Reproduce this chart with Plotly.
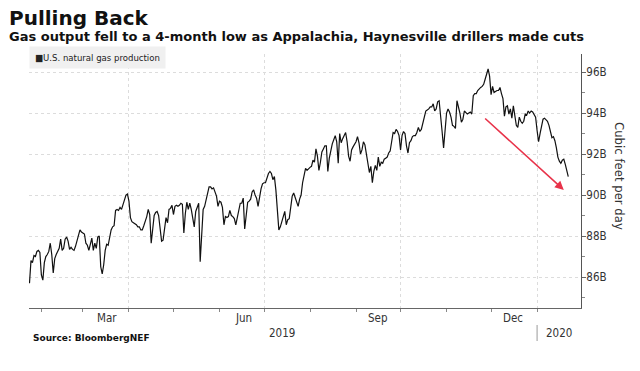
import plotly.graph_objects as go
import pandas as pd

# ---------------- data ----------------
start_date = "2019-01-24"
production = [
    85.7, 86.8, 86.7, 87.05, 87.0, 87.25, 87.3, 87.2, 86.1, 85.85,
    86.7, 87.0, 87.1, 87.25, 87.65, 87.1, 86.2, 86.9, 87.1, 87.25,
    87.4, 87.85, 87.3, 87.4, 87.85, 87.95, 87.75, 87.35, 87.45, 87.35,
    87.3, 87.5, 87.8, 88.0, 88.3, 88.2, 88.15, 88.1, 87.65, 87.55,
    87.3, 87.6, 87.9, 87.3, 87.65, 87.4, 87.95, 88.0, 86.5, 86.15,
    86.6, 87.3, 87.6, 87.55, 87.95, 88.3, 88.45, 88.5, 89.25, 89.3,
    89.25, 89.4, 89.3, 89.5, 89.8, 90.0, 90.05, 89.7, 88.9, 88.7,
    88.65, 88.6, 88.55, 88.45, 88.45, 88.3, 88.3, 88.5, 88.7, 88.95,
    89.3, 89.05, 87.65, 88.4, 89.0, 89.15, 89.2, 89.0, 88.45, 87.75,
    87.8, 88.3, 88.9, 88.65, 89.3, 89.35, 89.5, 89.05, 89.45, 89.5,
    89.45, 89.5, 89.6, 89.55, 88.15, 89.1, 89.65, 89.3, 89.6, 89.3,
    88.95, 88.45, 89.2, 89.45, 89.6, 86.75, 88.0, 89.3, 89.45, 89.8,
    90.1, 90.4, 90.4, 90.3, 90.35, 90.15, 89.95, 89.45, 89.7, 89.65,
    89.4, 88.55, 88.95, 88.9, 88.95, 89.25, 89.0, 88.95, 88.85, 88.55,
    88.95, 89.25, 89.6, 89.6, 89.85, 88.35, 89.0, 89.65, 89.7, 89.8,
    90.15, 90.25, 90.0, 89.85, 89.45, 90.0, 90.3, 90.55, 90.6, 90.6,
    90.85, 91.05, 91.15, 91.05, 90.75, 90.9, 90.25, 88.95, 88.3, 88.45,
    88.75, 89.0, 89.2, 88.55, 88.8, 88.85, 89.4, 89.95, 90.1, 89.85,
    89.6, 89.45, 89.8, 90.0, 90.6, 91.0, 91.3, 91.2, 91.3, 91.35,
    91.4, 91.7, 91.6, 92.25, 91.9, 91.2, 91.6, 92.1, 92.25, 92.4,
    92.4, 91.15, 91.8, 92.2, 92.5, 92.7, 92.9, 92.6, 91.55, 93.0,
    92.55, 92.75, 92.9, 93.05, 92.6, 91.9, 91.65, 92.2, 92.35, 92.45,
    92.6, 92.85, 92.55, 92.0, 92.2, 92.6, 92.45, 92.0, 91.5, 91.1,
    91.4, 90.6, 91.15, 91.45, 91.2, 91.85, 91.4, 91.6, 91.55, 91.75,
    91.8, 91.85, 92.05, 92.15, 92.6, 93.05, 93.0, 93.2, 93.1, 92.9,
    92.2, 92.9, 93.1, 93.0, 92.4, 92.05, 92.55, 92.65, 92.85, 92.9,
    92.9, 93.05, 93.3, 93.1, 93.2, 93.5, 93.9, 94.1, 94.15, 94.2,
    94.3, 94.3, 94.45, 94.1, 94.2, 94.55, 94.6, 94.0, 93.1, 92.3,
    93.0, 94.0, 94.2, 94.05, 93.8, 93.4, 93.35, 93.25, 94.6, 94.35,
    94.0, 93.55, 93.7, 94.1, 94.0, 93.95, 94.0, 94.05, 93.95, 94.85,
    94.95, 94.95, 95.1, 95.2, 95.25, 95.3, 95.4, 95.65, 95.95, 96.15,
    95.8, 94.9, 95.3, 95.0, 95.05, 95.1, 95.1, 95.25, 94.95, 94.7,
    93.85, 94.3, 94.35, 93.95, 94.2, 93.75, 94.35, 93.8, 93.4, 93.3,
    93.8, 93.6, 93.5, 93.6, 93.95, 93.9, 94.1, 94.0, 94.1, 94.05,
    93.95, 93.8, 93.15, 92.6, 93.0, 93.4, 93.7, 93.75, 93.65, 93.6,
    93.4, 93.15, 92.8, 92.85, 92.65, 92.3, 91.85, 91.65, 91.55, 91.7,
    91.75, 91.5, 91.15, 90.9,
]
series_name = "U.S. natural gas production"

month_labels = ["Mar", "Jun", "Sep", "Dec"]
month_label_dates = ["2019-03-17", "2019-06-17", "2019-09-16", "2019-12-16"]
year_labels = ["2019", "2020"]
year_label_dates = ["2019-07-13", "2020-01-16"]
year_boundary = "2020-01-01"

arrow_from = ("2019-11-26", 93.8)
arrow_to = ("2020-01-19", 90.25)

dates = pd.date_range(start_date, periods=len(production), freq="D")

# ---------------- layout helpers ----------------
W, H = 640, 371
L, R, T, B = 29, 59, 54, 63
PW, PH = W - L - R, H - T - B


def px(x):
    return (x - L) / PW


def py(y):
    return (H - B - y) / PH


TXT = "#333333"
NARROW = "Liberation Sans Narrow, DejaVu Sans Condensed, Arial Narrow, sans-serif"
BOLD = "DejaVu Sans, Verdana, sans-serif"
GRID = "#dcdcdc"

fig = go.Figure()
fig.add_trace(go.Scatter(
    x=dates, y=production, mode="lines", name=series_name,
    line=dict(color="#111111", width=1.2), showlegend=False, hoverinfo="skip",
))

annotations = []
# title & subtitle
annotations.append(dict(text="<b>Pulling Back</b>", xref="paper", yref="paper",
                        x=px(7), y=py(18), xanchor="left", yanchor="middle",
                        showarrow=False, font=dict(family=BOLD, size=20, color="#111")))
annotations.append(dict(text="<b>Gas output fell to a 4-month low as Appalachia, Haynesville drillers made cuts</b>",
                        xref="paper", yref="paper", x=px(7), y=py(37),
                        xanchor="left", yanchor="middle", showarrow=False,
                        font=dict(family=BOLD, size=13, color="#111")))
# legend box
annotations.append(dict(text="\u25A0" + series_name, xref="paper", yref="paper",
                        x=px(29), y=py(57.5), xanchor="left", yanchor="middle",
                        showarrow=False, bgcolor="#f0f0f0", borderpad=5,
                        font=dict(family=NARROW, size=9.5, color="#222")))
# y-axis title
annotations.append(dict(text="Cubic feet per day", xref="paper", yref="paper",
                        x=px(620), y=py(176), xanchor="center", yanchor="middle",
                        textangle=90, showarrow=False,
                        font=dict(family=NARROW, size=13, color=TXT)))
# month and year labels
for lab, d in zip(month_labels, month_label_dates):
    annotations.append(dict(text=lab, x=d, xref="x", yref="paper", y=py(318),
                            xanchor="center", yanchor="middle", showarrow=False,
                            font=dict(family=NARROW, size=11.5, color=TXT)))
for lab, d in zip(year_labels, year_label_dates):
    annotations.append(dict(text=lab, x=d, xref="x", yref="paper", y=py(333),
                            xanchor="center", yanchor="middle", showarrow=False,
                            font=dict(family=NARROW, size=11.5, color=TXT)))
# source
annotations.append(dict(text="<b>Source: BloombergNEF</b>", xref="paper", yref="paper",
                        x=px(31), y=py(338), xanchor="left", yanchor="middle",
                        showarrow=False, font=dict(family=BOLD, size=9, color="#111")))
# red arrow
annotations.append(dict(text="", x=arrow_to[0], y=arrow_to[1], xref="x", yref="y",
                        ax=arrow_from[0], ay=arrow_from[1], axref="x", ayref="y",
                        showarrow=True, arrowhead=2, arrowsize=1.1, arrowwidth=1.6,
                        arrowcolor="#e8334a"))

shapes = [dict(type="line", xref="x", yref="paper", x0=year_boundary, x1=year_boundary,
               y0=py(325), y1=py(341), line=dict(color="#999999", width=1))]

fig.update_layout(
    width=W, height=H, margin=dict(l=L, r=R, t=T, b=B, autoexpand=False),
    paper_bgcolor="white", plot_bgcolor="white", hovermode=False,
    annotations=annotations, shapes=shapes,
    xaxis=dict(
        type="date", range=["2019-01-23 16:00", "2020-01-30 14:00"],
        tick0="2019-01-01", dtick="M3", showticklabels=False, automargin=False,
        ticks="outside", ticklen=3, tickcolor="#888",
        showgrid=True, gridcolor=GRID, griddash="dot", gridwidth=1,
        minor=dict(dtick="M1", tick0="2019-01-01", ticks="outside", ticklen=3,
                   tickcolor="#888", showgrid=False),
        showline=True, linecolor="#666", linewidth=1, zeroline=False,
    ),
    yaxis=dict(
        side="right", range=[84.49, 96.88], tick0=86, dtick=2, automargin=False,
        ticksuffix="B", ticks="outside", ticklen=4, tickcolor="#666",
        ticklabelstandoff=-2,
        showgrid=True, gridcolor=GRID, griddash="dot", gridwidth=1,
        minor=dict(dtick=1, tick0=86, ticks="outside", ticklen=3, tickcolor="#888",
                   showgrid=False),
        showline=True, linecolor="#555", linewidth=1, zeroline=False,
        tickfont=dict(family=NARROW, size=11.5, color=TXT),
    ),
)

fig.write_html("out.html", config={"displayModeBar": False, "staticPlot": True},
               post_script="document.body.style.margin='0';document.body.style.padding='0';")
